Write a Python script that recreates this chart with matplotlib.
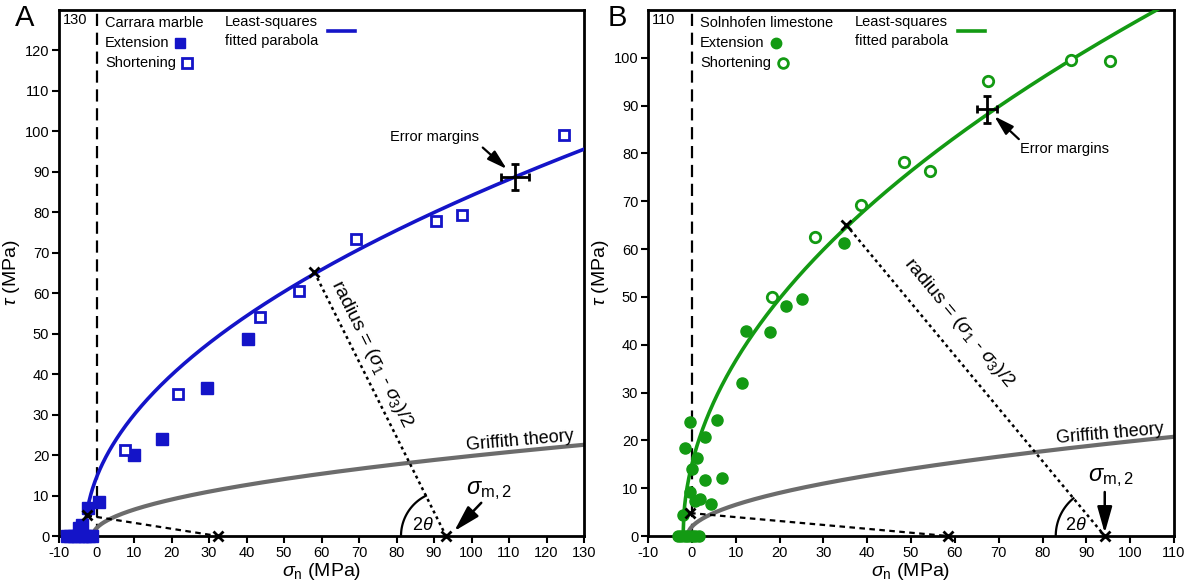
import numpy as np
import matplotlib.pyplot as plt

plt.rcParams['font.family'] = ['Liberation Sans', 'DejaVu Sans']
plt.rcParams['mathtext.fontset'] = 'custom'
plt.rcParams['mathtext.rm'] = 'Liberation Sans'
plt.rcParams['mathtext.it'] = 'Liberation Sans:italic'
plt.rcParams['axes.unicode_minus'] = False

# Panel A - Carrara marble
marble_ext_sn = [-8, -7, -6, -5, -4, -3, -2, -1.2, -4.6, -3.8, -2.3, 0.6, 10.0, 17.5, 29.4, 40.4]
marble_ext_tau = [0, 0, 0, 0, 0, 0, 0, 0, 2.0, 2.6, 6.8, 8.4, 20.1, 23.9, 36.7, 48.7]
marble_sh_sn = [7.7, 21.7, 43.6, 53.9, 69.2, 90.4, 97.5, 124.6]
marble_sh_tau = [21.2, 35.1, 54.2, 60.5, 73.4, 77.8, 79.4, 99.2]
marble_k, marble_s0 = 68.7, -3.05          # tau^2 = k (sn - s0)
marble_tangent = [(-2.65, 5.1), (58.1, 65.2)]
marble_center = [32.3, 93.2]
marble_err = (111.5, 88.8, 3.7, 3.2)

# Panel B - Solnhofen limestone
lime_ext_sn = [-3.2, -2.4, -1.6, -0.8, 0, 0.8, 1.6, -2.1, -0.5, 0.8, 1.9, 4.4, 3.1, 6.9, 0.0, 1.2,
               3.1, -1.5, -0.4, 5.8, 11.5, 12.3, 17.8, 21.4, 25.2, 34.7]
lime_ext_tau = [0, 0, 0, 0, 0, 0, 0, 4.3, 9.2, 7.3, 7.8, 6.6, 11.7, 12.1, 14.0, 16.3,
                20.6, 18.4, 23.8, 24.3, 31.9, 42.9, 42.6, 48.2, 49.5, 61.2]
lime_sh_sn = [18.2, 28.2, 38.6, 48.5, 54.3, 67.6, 86.4, 95.3]
lime_sh_tau = [49.9, 62.6, 69.3, 78.2, 76.3, 95.1, 99.5, 99.3]
lime_k, lime_s0 = 112.0, -2.0
lime_tangent = [(-0.4, 4.8), (35.2, 65.1)]
lime_center = [58.4, 94.2]
lime_err = (67.3, 89.2, 2.3, 2.8)

griffith_T = 0.97   # tau^2 = 4T(sn + T)

blue = '#1414c8'
green = '#139a13'
gray = '#6c6c6c'

fig = plt.figure(figsize=(12, 5.84), dpi=100)
axA = fig.add_axes([59/1200, 48/584, 525/1200, 526/584])
axB = fig.add_axes([648/1200, 48/584, 526/1200, 526/584])

err_style = dict(arrowstyle='-|>,head_width=0.35,head_length=1.2', color='k', lw=1.6,
                 shrinkA=0, shrinkB=0)
sm_style = dict(arrowstyle='-|>,head_width=0.45,head_length=1.6', color='k', lw=1.8,
                shrinkA=0, shrinkB=0)


def draw_panel(ax, xmax, ymax, color, marker, ext_sn, ext_tau, sh_sn, sh_tau, k, s0,
               tangent, center, err, toplabel, radius_xy, grif_xy, err_text, err_start,
               err_arrow, sm_text, sm_start, sm_arrow, arc_r, theta_xy):
    ax.set_xlim(-10, xmax)
    ax.set_ylim(0, ymax)
    ax.set_xticks(np.arange(-10, xmax + 1, 10))
    ax.set_yticks(np.arange(0, ymax, 10))
    for s in ax.spines.values():
        s.set_linewidth(2)
    ax.tick_params(direction='out', length=5, width=1.5, labelsize=10.5, pad=2)
    ax.set_xlabel(r'$\sigma_{\mathrm{n}}$ (MPa)', fontsize=14, labelpad=1)
    ax.set_ylabel(r'$\tau$ (MPa)', fontsize=14, labelpad=2)

    # vertical line at zero
    ax.plot([0, 0], [0, ymax], color='k', lw=1.6, ls=(0, (5.5, 3)), zorder=2)

    # Griffith theory
    sg = np.linspace(-griffith_T, xmax, 400)
    ax.plot(sg, np.sqrt(4 * griffith_T * (sg + griffith_T)), color=gray, lw=3, zorder=2)

    # fitted parabola
    sp = np.linspace(s0, xmax, 600)
    ax.plot(sp, np.sqrt(k * (sp - s0)), color=color, lw=2.6, zorder=3)

    # Mohr circle radii
    (t1x, t1y), (t2x, t2y) = tangent
    ax.plot([t1x, center[0]], [t1y, 0], color='k', lw=1.6, ls=(0, (2.5, 2)), zorder=2)
    ax.plot([t2x, center[1]], [t2y, 0], color='k', lw=1.8, ls=(0, (1.2, 1.4)), zorder=2)
    ax.plot([t1x, center[0], t2x, center[1]], [t1y, 0, t2y, 0], 'x', color='k', ms=7, mew=2,
            zorder=5, clip_on=False)

    # data points
    ax.plot(ext_sn, ext_tau, marker, color=color, ms=8, ls='none', zorder=4, clip_on=False)
    ax.plot(sh_sn, sh_tau, marker, mfc='white', mec=color, mew=2, ms=7.5, ls='none', zorder=4,
            clip_on=False)

    # error margins
    ax.errorbar(err[0], err[1], xerr=err[2], yerr=err[3], fmt='none', ecolor='k', elinewidth=2,
                capsize=3, capthick=2, zorder=6)
    ax.text(err_text[0], err_text[1], 'Error margins', fontsize=10.5, ha='center', va='center')
    ax.annotate('', xy=err_arrow, xytext=err_start, arrowprops=err_style)

    # rotated labels along lines
    p1 = ax.transData.transform((t2x, t2y))
    p2 = ax.transData.transform((center[1], 0))
    ang = np.degrees(np.arctan2(p2[1] - p1[1], p2[0] - p1[0]))
    ax.text(radius_xy[0], radius_xy[1], r'radius = ($\sigma_1$ - $\sigma_3$)/2', fontsize=14,
            rotation=ang, rotation_mode='anchor', ha='center', va='center')
    ax.text(grif_xy[0], grif_xy[1], 'Griffith theory', fontsize=13, rotation=5, ha='center',
            va='center', rotation_mode='anchor')

    # 2 theta arc drawn in screen space
    c = ax.transData.transform((center[1], 0))
    a = np.linspace(np.radians(ang + 180), np.pi, 50)
    pts = np.column_stack([c[0] + arc_r * np.cos(a), c[1] + arc_r * np.sin(a)])
    arc = ax.transData.inverted().transform(pts)
    ax.plot(arc[:, 0], arc[:, 1], color='k', lw=1.6, zorder=3)
    ax.text(theta_xy[0], theta_xy[1], r'2$\theta$', fontsize=13, ha='center', va='center')
    ax.text(sm_text[0], sm_text[1], r'$\sigma_{\mathrm{m,2}}$', fontsize=17, ha='center',
            va='center')
    ax.annotate('', xy=sm_arrow, xytext=sm_start, arrowprops=sm_style)

    ax.text(0.008, 0.981, toplabel, transform=ax.transAxes, fontsize=10.5, ha='left', va='center')


draw_panel(axA, 130, 130, blue, 's', marble_ext_sn, marble_ext_tau, marble_sh_sn, marble_sh_tau,
           marble_k, marble_s0, marble_tangent, marble_center, marble_err, '130',
           radius_xy=(73.5, 45), grif_xy=(113, 23.4), err_text=(90, 98.6), err_start=(103, 96),
           err_arrow=(109.4, 90.7), sm_text=(104.5, 11.3), sm_start=(102.6, 8.2),
           sm_arrow=(95.4, 1.2), arc_r=45, theta_xy=(87, 2.6))
draw_panel(axB, 110, 110, green, 'o', lime_ext_sn, lime_ext_tau, lime_sh_sn, lime_sh_tau,
           lime_k, lime_s0, lime_tangent, lime_center, lime_err, '110',
           radius_xy=(61, 44.5), grif_xy=(95.5, 21.4), err_text=(85, 81), err_start=(74.6, 83),
           err_arrow=(69, 87.8), sm_text=(95.5, 12.2), sm_start=(94.2, 9.2),
           sm_arrow=(94.2, 0.6), arc_r=49, theta_xy=(87.5, 2.2))

# legends
for ax, name, color, marker, x0, xe, xs, xl, xline in [
        (axA, 'Carrara marble', blue, 's', 0.0876, 0.230, 0.244, 0.316, (0.512, 0.564)),
        (axB, 'Solnhofen limestone', green, 'o', 0.0989, 0.243, 0.257, 0.394, (0.589, 0.641))]:
    ax.text(x0, 0.975, name, transform=ax.transAxes, fontsize=10.5, va='center')
    ax.text(x0, 0.937, 'Extension', transform=ax.transAxes, fontsize=10.5, va='center')
    ax.text(x0, 0.899, 'Shortening', transform=ax.transAxes, fontsize=10.5, va='center')
    ax.plot([xe], [0.937], marker, color=color, ms=7.5, transform=ax.transAxes, clip_on=False)
    ax.plot([xs], [0.899], marker, mfc='white', mec=color, mew=2, ms=7, transform=ax.transAxes,
            clip_on=False)
    ax.text(xl, 0.977, 'Least-squares', transform=ax.transAxes, fontsize=10.5, va='center')
    ax.text(xl, 0.941, 'fitted parabola', transform=ax.transAxes, fontsize=10.5, va='center')
    ax.plot(xline, [0.960, 0.960], color=color, lw=2.6, transform=ax.transAxes, clip_on=False)

fig.text(15/1200, 1 - 18/584, 'A', fontsize=21, va='center', ha='left')
fig.text(608/1200, 1 - 18/584, 'B', fontsize=21, va='center', ha='left')

fig.savefig('out.png', dpi=100)
